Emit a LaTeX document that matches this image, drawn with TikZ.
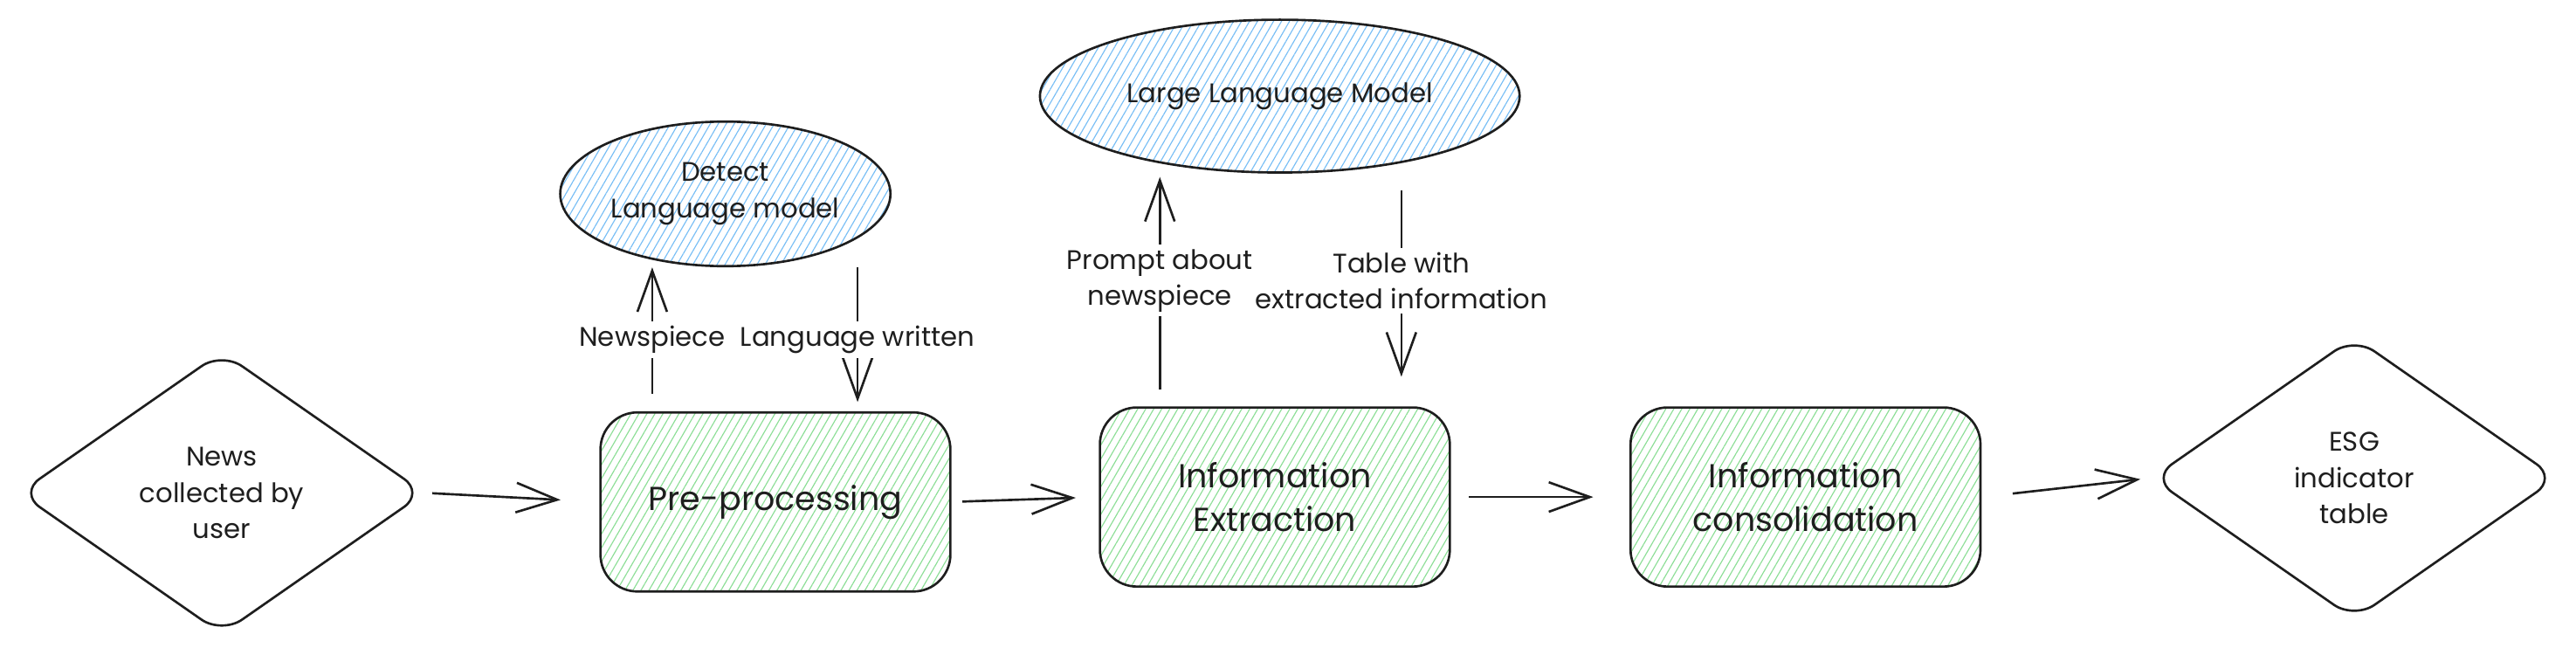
\documentclass[tikz,border=0pt]{standalone}
\usepackage{fontspec}
\setmainfont{Poppins}
\usepackage{xcolor}
\usepackage{tikz}
\usetikzlibrary{arrows.meta, shapes.geometric, patterns.meta, positioning}
\definecolor{ink}{RGB}{30,30,30}
\definecolor{hachgreen}{RGB}{140,222,150}
\definecolor{hachblue}{RGB}{120,190,245}
\newcommand{\boxfont}{\fontsize{11.5}{15.3}\selectfont}
\newcommand{\smallfont}{\fontsize{9.3}{12.5}\selectfont}
\tikzset{
    boxnode/.style = {draw=ink, rectangle, rounded corners=4.5mm, line width=0.8pt, text=ink,
      minimum width=42.6mm, minimum height=21.8mm, inner sep=0em, node distance=0em,
      pattern={Lines[angle=60, distance=2.4pt, line width=0.35pt]}, pattern color=hachgreen,
      font=\boxfont},
    ellipsenode/.style = {draw=ink, ellipse, line width=0.8pt, text=ink, inner sep=0em,
      node distance=0em, pattern={Lines[angle=60, distance=2.4pt, line width=0.35pt]},
      pattern color=hachblue, font=\smallfont},
    diamondnode/.style = {draw=ink, diamond, rounded corners=3mm, line width=0.8pt, text=ink,
      inner sep=0em, minimum width=49.4mm, minimum height=34.4mm, node distance=0em,
      font=\smallfont},
    labelnode/.style = {fill=white, text=ink, inner sep=0.15em, font=\smallfont},
    connect/.style = {ink, line width=0.8pt, -{Straight Barb[length=5mm, width=3.6mm]}},
    every text node part/.style={align=center}
}

\begin{document}
\begin{tikzpicture}
    \useasboundingbox (-27mm,-18.8mm) rectangle (286.6mm,60mm);

    \node [name=news, diamondnode] {News\\collected by\\user};

    \node [name=pre, boxnode, right of = news, xshift=67.4mm, yshift=-1.1mm] {Pre-processing};
    \node [name=extract, boxnode, right of = news, xshift=128.2mm, yshift=-0.5mm] {Information\\Extraction};
    \node [name=consol, boxnode, right of = news, xshift=192.8mm, yshift=-0.5mm] {Information\\consolidation};
    \node [name=esg, diamondnode, right of = news, xshift=259.6mm, yshift=1.8mm] {ESG\\indicator\\table};

    \node [name=detect, ellipsenode, minimum width=40.2mm, minimum height=17.6mm,
        right of = news, xshift=61.3mm, yshift=36.4mm] {Detect\\Language model};
    \node [name=llm, ellipsenode, minimum width=58.4mm, minimum height=18.6mm,
        right of = news, xshift=128.8mm, yshift=48.3mm] {Large Language Model};

    % main flow
    \draw [connect, shorten <=0.8mm, shorten >=4.8mm] (news.east) -- (pre.west);
    \draw [connect, shorten <=1.4mm, shorten >=2.8mm] (pre.east) -- (extract.west);
    \draw [connect, shorten <=2.2mm, shorten >=4.4mm] (extract.east) -- (consol.west);
    \draw [connect, shorten <=3.8mm, shorten >=1.2mm] (consol.east) -- (esg.west);

    % language detection
    \draw [connect, shorten <=2.2mm] ([xshift=-15mm]pre.north)
        -- node[labelnode] {Newspiece} ([xshift=-15mm]pre.north |- detect.south);
    \draw [connect, shorten >=1.2mm] ([xshift=10mm]pre.north |- detect.south)
        -- node[labelnode] {Language written} ([xshift=10mm]pre.north);

    % extraction with the LLM
    \draw [connect, shorten <=2mm, shorten >=0.4mm] ([xshift=-14mm]extract.north)
        -- node[labelnode, pos=0.54] {Prompt about\\newspiece} ([xshift=-14mm]extract.north |- llm.south);
    \draw [connect, shorten <=2mm, shorten >=3.6mm] ([xshift=15.4mm]extract.north |- llm.south)
        -- node[labelnode, pos=0.46] {Table with\\extracted information} ([xshift=15.4mm]extract.north);
\end{tikzpicture}
\end{document}
